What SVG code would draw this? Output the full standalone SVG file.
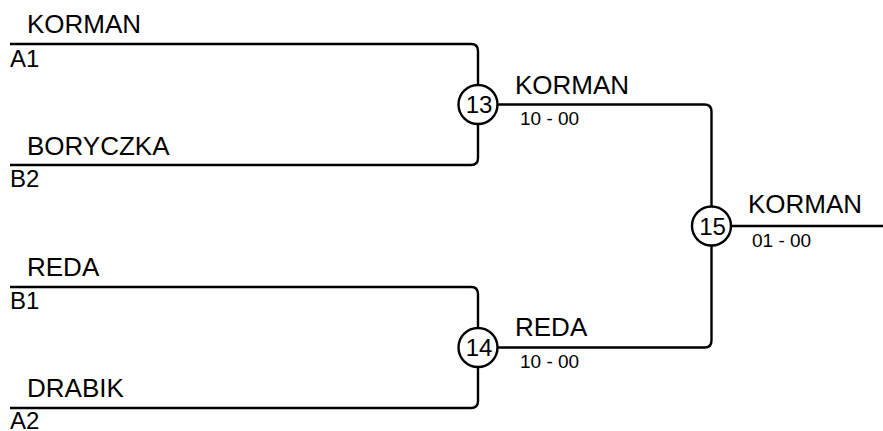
<svg xmlns="http://www.w3.org/2000/svg" width="883" height="431" viewBox="0 0 883 431">
<style>
.ln{fill:none;stroke:#000;stroke-width:2.4}
.c{fill:#fff;stroke:#000;stroke-width:2.4}
.nm{font-family:"Liberation Sans",Arial,sans-serif;font-size:26px;fill:#000}
.sd{font-family:"Liberation Sans",Arial,sans-serif;font-size:24px;fill:#000}
.sc{font-family:"Liberation Sans",Arial,sans-serif;font-size:19px;fill:#000}
.num{font-family:"Liberation Sans",Arial,sans-serif;font-size:24px;fill:#000;text-anchor:middle}
</style>
<rect width="883" height="431" fill="#fff"/>
<g id="connectors">
<path class="ln" d="M10,44 H471 Q478,44 478,51 V85"/>
<path class="ln" d="M478,124 V158 Q478,165 471,165 H10"/>
<path class="ln" d="M10,287 H471 Q478,287 478,294 V328"/>
<path class="ln" d="M478,367 V401 Q478,408 471,408 H10"/>
<path class="ln" d="M497.5,104.5 H704.5 Q711.5,104.5 711.5,111.5 V206.5"/>
<path class="ln" d="M497.5,347.5 H704.5 Q711.5,347.5 711.5,340.5 V245.5"/>
<path class="ln" d="M731,226 H883"/>
</g>
<g id="entry-korman">
<text class="nm" x="27" y="33">KORMAN</text>
<text class="sd" x="10" y="66.5">A1</text>
</g>
<g id="entry-boryczka">
<text class="nm" x="27" y="154.5">BORYCZKA</text>
<text class="sd" x="10" y="187">B2</text>
</g>
<g id="entry-reda">
<text class="nm" x="27" y="276">REDA</text>
<text class="sd" x="10" y="309">B1</text>
</g>
<g id="entry-drabik">
<text class="nm" x="27" y="397">DRABIK</text>
<text class="sd" x="10" y="429">A2</text>
</g>
<g id="match-13">
<circle class="c" cx="478" cy="104.5" r="19.5"/>
<text class="num" x="479" y="113">13</text>
<text class="nm" x="515" y="93.5">KORMAN</text>
<text class="sc" x="520" y="124.5">10 - 00</text>
</g>
<g id="match-14">
<circle class="c" cx="478" cy="347.5" r="19.5"/>
<text class="num" x="479" y="356">14</text>
<text class="nm" x="515" y="336">REDA</text>
<text class="sc" x="520" y="368">10 - 00</text>
</g>
<g id="match-15">
<circle class="c" cx="711.5" cy="226" r="19.5"/>
<text class="num" x="712.5" y="234.5">15</text>
<text class="nm" x="748" y="213">KORMAN</text>
<text class="sc" x="752" y="247">01 - 00</text>
</g>
</svg>
